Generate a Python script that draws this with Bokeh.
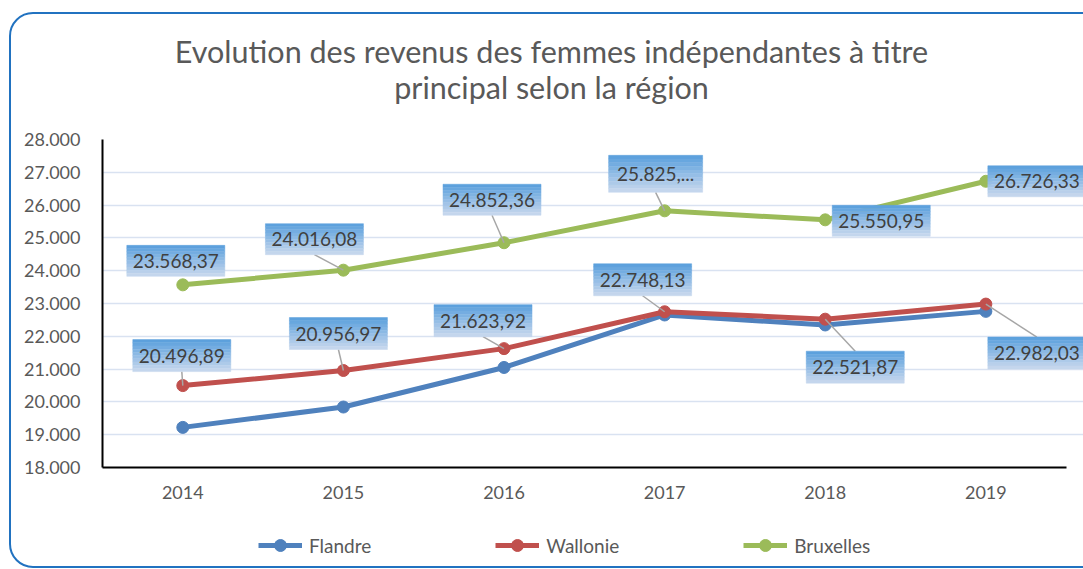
from bokeh.plotting import figure
from bokeh.layouts import column
from bokeh.models import (ColumnDataSource, FixedTicker, Legend, LegendItem, Label,
                          Range1d, InlineStyleSheet)
from bokeh.core.properties import value
from bokeh.embed import file_html
from bokeh.resources import INLINE

# ---------------- data ----------------
years = ["2014", "2015", "2016", "2017", "2018", "2019"]
flandre = [19223, 19844, 21050, 22650, 22345, 22760]
wallonie = [20496.89, 20956.97, 21623.92, 22748.13, 22521.87, 22982.03]
bruxelles = [23568.37, 24016.08, 24852.36, 25825.50, 25550.95, 26726.33]
y_ticks = [18000, 19000, 20000, 21000, 22000, 23000, 24000, 25000, 26000, 27000, 28000]
y_tick_labels = ["18.000", "19.000", "20.000", "21.000", "22.000", "23.000",
                 "24.000", "25.000", "26.000", "27.000", "28.000"]
series_names = ["Flandre", "Wallonie", "Bruxelles"]
title_lines = ["Evolution des revenus des femmes indépendantes à titre",
               "principal selon la région"]

# ---------------- styles / layout ----------------
C_F, C_W, C_B = "#4F81BD", "#C0504D", "#9BBB59"
SERIES_COLORS = [C_F, C_W, C_B]
TXT = "#595959"
FONT = "Lato"
W = 1083
H_TITLE, H_MAIN, H_LEG = 127, 383, 59
B_LEFT, B_TOP, B_BOTTOM = 102, 12, 43
FRAME_W, FRAME_H = W - B_LEFT, H_MAIN - B_TOP - B_BOTTOM
X_END = 6.108
Y0, Y1 = 18000, 28000
PX_X = FRAME_W / X_END
PX_Y = FRAME_H / (Y1 - Y0)
TITLE_CX = 551
TITLE_Y = [50.5, 86.5]

# data-label boxes: pixel offsets of box centre from its point (screen y downwards)
brx_off = [(-7, -24), (-29, -31), (-12, -43), (-9, -37), (56, 1), (51, 0)]
wal_off = [(-1, -30), (-5, -37), (-21, -28), (-22, -32), (30, 48), (51, 49)]
brx_leader = [False, True, True, True, False, False]
wal_leader = [True, True, True, True, True, True]
brx_size = [(98, 31), (98, 31), (98, 31), (94, 37), (98, 31), (98, 31)]
wal_size = [(98, 32)] * 6
brx_trunc = [False, False, False, True, False, False]
wal_trunc = [False] * 6


def be_fmt(v):
    s = f"{v:,.2f}"
    return s.replace(",", " ").replace(".", ",").replace(" ", ".")


def bare(fig):
    fig.outline_line_color = None
    fig.background_fill_color = "white"
    fig.border_fill_color = "white"
    return fig


xs = [i + 0.5 for i in range(len(years))]

# ---------------- title strip (frame aligned with the main frame: x = page px) ----------------
pt = bare(figure(width=W, height=H_TITLE, output_backend="svg", toolbar_location=None,
                 x_range=Range1d(B_LEFT, W), y_range=Range1d(H_TITLE, 0),
                 x_axis_type=None, y_axis_type=None, min_border=0))
for line, base in zip(title_lines, TITLE_Y):
    pt.add_layout(Label(x=TITLE_CX, y=base, text=line, text_align="center",
                        text_baseline="alphabetic", text_font=FONT,
                        text_font_size="30.5px", text_color=TXT))

# ---------------- main chart ----------------
p = bare(figure(width=W, height=H_MAIN, output_backend="svg", toolbar_location=None,
                x_range=Range1d(0, X_END), y_range=Range1d(Y0, Y1),
                min_border_left=B_LEFT, min_border_right=0, min_border_top=B_TOP,
                min_border_bottom=B_BOTTOM))

p.yaxis.ticker = FixedTicker(ticks=y_ticks)
p.yaxis.major_label_overrides = dict(zip(y_ticks, y_tick_labels))
p.xaxis.ticker = FixedTicker(ticks=xs)
p.xaxis.major_label_overrides = dict(zip(xs, years))
p.xaxis.bounds = (0, len(years))
for ax in (p.xaxis, p.yaxis):
    ax.axis_line_color = "black"
    ax.axis_line_width = 2
    ax.major_tick_line_color = None
    ax.minor_tick_line_color = None
    ax.major_label_text_font = FONT
    ax.major_label_text_font_size = "18px"
    ax.major_label_text_color = TXT
p.yaxis.major_label_standoff = 16
p.xaxis.major_label_standoff = 12

p.xgrid.visible = False
p.ygrid.ticker = FixedTicker(ticks=y_ticks)
p.ygrid.grid_line_color = "#D9E2F1"
p.ygrid.grid_line_width = 1.5

for vals, col in zip((flandre, wallonie, bruxelles), SERIES_COLORS):
    p.line(xs, vals, line_width=5, line_color=col)
    p.scatter(xs, vals, size=12, fill_color=col, line_color=col)

# data labels (gradient boxes + leader lines + text)
N = 10
top_c = (93, 161, 221)
bot_c = (196, 214, 237)
strips = dict(left=[], right=[], top=[], bottom=[], color=[])
leaders = dict(x0=[], y0=[], x1=[], y1=[])
texts = dict(x=[], y=[], text=[])
for vals, offs, sizes, lead, trunc in ((bruxelles, brx_off, brx_size, brx_leader, brx_trunc),
                                       (wallonie, wal_off, wal_size, wal_leader, wal_trunc)):
    for i, v in enumerate(vals):
        ox, oy = offs[i]
        w, h = sizes[i]
        cx = xs[i] + ox / PX_X
        cy = v - oy / PX_Y
        for k in range(N):
            t = k / (N - 1)
            c = tuple(int(round(top_c[j] + (bot_c[j] - top_c[j]) * t)) for j in range(3))
            strips["left"].append(cx - w / 2 / PX_X)
            strips["right"].append(cx + w / 2 / PX_X)
            strips["top"].append(cy + (h / 2 - k * h / N) / PX_Y)
            strips["bottom"].append(cy + (h / 2 - (k + 1) * h / N) / PX_Y)
            strips["color"].append("#%02x%02x%02x" % c)
        if lead[i]:
            edge = h / 2 if oy < 0 else -h / 2
            leaders["x0"].append(cx)
            leaders["y0"].append(cy - edge / PX_Y)
            leaders["x1"].append(xs[i])
            leaders["y1"].append(v)
        s = be_fmt(v)
        if trunc[i]:
            s = s.split(",")[0] + ",..."
        texts["x"].append(cx)
        texts["y"].append(cy)
        texts["text"].append(s)

p.segment(x0="x0", y0="y0", x1="x1", y1="y1", source=ColumnDataSource(leaders),
          line_color="#A6A6A6", line_width=1.5)
p.quad(left="left", right="right", top="top", bottom="bottom", fill_color="color",
       line_color="color", line_width=0.5, source=ColumnDataSource(strips))
p.text(x="x", y="y", text="text", source=ColumnDataSource(texts), text_align="center",
       text_baseline="middle", text_font=value(FONT), text_font_size="19px",
       text_color="#404040")

# ---------------- legend strip ----------------
pl = bare(figure(width=W, height=H_LEG, output_backend="svg", toolbar_location=None,
                 x_range=Range1d(0, 1), y_range=Range1d(0, 1),
                 x_axis_type=None, y_axis_type=None, min_border=0))
items = []
for name, col in zip(series_names, SERIES_COLORS):
    # proxy glyphs (outside the visible range) that only feed the legend
    rl = pl.line([-2, -1], [-2, -1], line_width=5, line_color=col)
    rs = pl.scatter([-2], [-2], size=12, fill_color=col, line_color=col)
    items.append(LegendItem(label=name, renderers=[rl, rs]))
legend = Legend(items=items, orientation="horizontal", location=(258 - B_LEFT, 9),
                spacing=124, glyph_width=44, glyph_height=30, label_standoff=7,
                label_height=30, padding=0, margin=0, border_line_color=None,
                background_fill_alpha=0, label_text_font=FONT,
                label_text_font_size="19px", label_text_color=TXT)
pl.add_layout(legend)

card_css = InlineStyleSheet(css="""
:host { position: relative; overflow: hidden; }
:host::after {
  content: ""; position: absolute; left: 9px; top: 12px; width: 1120px; height: 556px;
  border: 2px solid #2172C0; border-radius: 24px; pointer-events: none; box-sizing: border-box;
}
""")
layout = column(pt, p, pl, spacing=0, stylesheets=[card_css])

open("out.html", "w").write(file_html(layout, INLINE))
